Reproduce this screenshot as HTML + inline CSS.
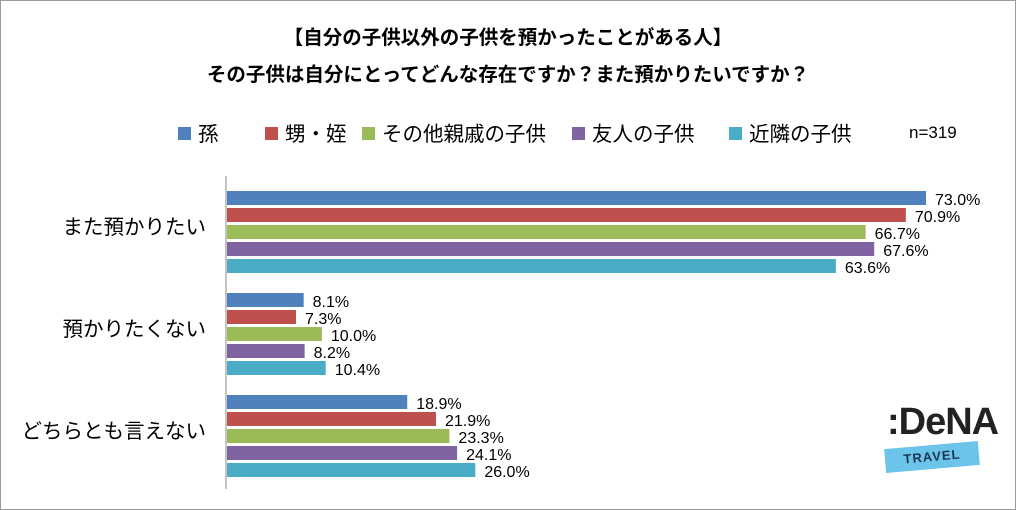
<!DOCTYPE html>
<html><head><meta charset="utf-8"><style>
body{margin:0;background:#fff;}
#wrap{position:relative;width:1014px;height:508px;border:1px solid #9a9a9a;overflow:hidden;font-family:"Liberation Sans","Noto Sans CJK JP",sans-serif;}
.t{position:absolute;left:0;width:1014px;text-align:center;font-weight:bold;font-size:19.5px;color:#000;line-height:24px;}
</style></head><body>
<div id="wrap">
<div class="t" style="top:25px">【自分の子供以外の子供を預かったことがある人】</div>
<div class="t" style="top:62px">その子供は自分にとってどんな存在ですか？また預かりたいですか？</div>
<svg id="chart" width="1014" height="508" style="position:absolute;left:0;top:0"></svg>
<div style="position:absolute;left:880px;top:400px;width:110px;height:80px">
<div style="position:absolute;left:6px;top:0;font:bold 38px 'Liberation Sans',sans-serif;color:#222;letter-spacing:-1px">:DeNA</div>
<div style="position:absolute;left:4px;top:44px;width:94px;height:24px;background:#6cc4ea;transform:rotate(-5deg);text-align:center;font:bold 13px 'Liberation Sans',sans-serif;color:#1d3550;line-height:24px;letter-spacing:1px">TRAVEL</div>
</div>
</div>
<script>
const categories=["また預かりたい","預かりたくない","どちらとも言えない"];
const seriesNames=["孫","甥・姪","その他親戚の子供","友人の子供","近隣の子供"];
const s0=[73.0,8.1,18.9];
const s1=[70.9,7.3,21.9];
const s2=[66.7,10.0,23.3];
const s3=[67.6,8.2,24.1];
const s4=[63.6,10.4,26.0];
const series=[s0,s1,s2,s3,s4];
const colors=["#4F81BD","#C0504D","#9BBB59","#8064A2","#4BACC6"];
const NS="http://www.w3.org/2000/svg";
const svg=document.getElementById('chart');
const x0=225, pxPer=700/73;
const xs=v=>x0+v*pxPer;
const groupTop=g=>190+g*102;
function mk(tag,attrs){const e=document.createElementNS(NS,tag);for(const k in attrs)e.setAttribute(k,attrs[k]);svg.appendChild(e);return e;}
const ax=mk('line',{x1:x0,y1:175,x2:x0,y2:488,stroke:'#888','stroke-width':1});


categories.forEach((c,g)=>{
  const t=mk('text',{x:205,y:groupTop(g)+43,'text-anchor':'end','font-size':20.5,fill:'#000'});
  t.textContent=c;
  
  
  series.forEach((s,i)=>{
    const y=groupTop(g)+i*17;
    const r=mk('rect',{x:x0+1,y:y,width:xs(s[g])-x0-1,height:14,fill:colors[i]});
    
    
    const l=mk('text',{x:xs(s[g])+9,y:y+14,'font-size':16,fill:'#000'});
    l.textContent=s[g].toFixed(1)+'%';
    
    
  });
});
const legX=[177,264,361,571,728];
seriesNames.forEach((n,i)=>{
  const r=mk('rect',{x:legX[i],y:126,width:13,height:13,fill:colors[i]});
  
  
  const t=mk('text',{x:legX[i]+20,y:140,'font-size':20.5,fill:'#000'});
  t.textContent=n;
  
  
});
const nt=mk('text',{x:908,y:137,'font-size':17,fill:'#000'});
nt.textContent='n=319';


</script>
</body></html>
